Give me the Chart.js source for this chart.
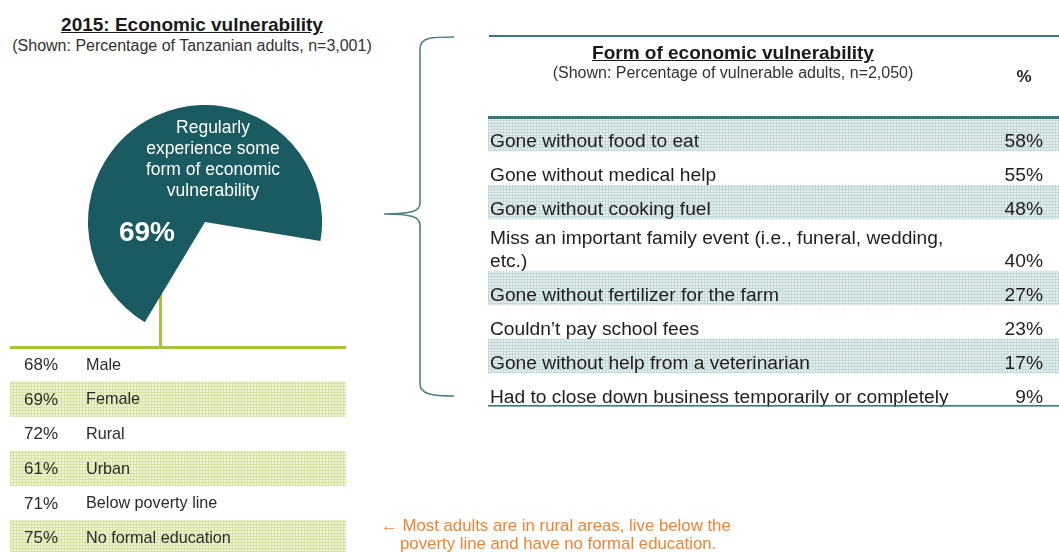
<!DOCTYPE html>
<html>
<head>
<meta charset="utf-8">
<script src="https://cdn.jsdelivr.net/npm/chart.js@4.4.1/dist/chart.umd.min.js"></script>
<style>
  html, body { margin: 0; padding: 0; background: #fff; }
  body { width: 1059px; height: 552px; position: relative; overflow: hidden;
         font-family: "Liberation Sans", Arial, sans-serif; color: #222; }
  .abs { position: absolute; }
  .title { font-weight: bold; font-size: 19px; text-decoration: underline; white-space: nowrap; color: #1a1a1a; }
  .sub { font-size: 16px; white-space: nowrap; color: #333; }
  .rule { background: #3d777c; }
  canvas { display: block; }
</style>
</head>
<body>

<div class="abs title" style="left:0;width:384px;text-align:center;top:14px;">2015: Economic vulnerability</div>
<div class="abs sub" style="left:0;width:384px;text-align:center;top:37px;">(Shown: Percentage of Tanzanian adults, n=3,001)</div>

<div class="abs" style="left:159px;top:285px;width:3px;height:62px;background:#a8c23c;"></div>
<div class="abs" style="left:88px;top:105px;"><canvas id="pie" width="234" height="234"></canvas></div>

<div class="abs" style="left:10px;top:346px;width:336px;height:2.5px;background:#a8c23c;z-index:2;"></div>
<div class="abs" style="left:10px;top:347px;"><canvas id="groups" width="336" height="208"></canvas></div>

<svg class="abs" style="left:0;top:0;" width="1059" height="552">
  <path d="M454,37 C432,37 420,37 420,49 L420,203 C420,211 412,214 384,214 C412,214 420,217 420,225 L420,384 C420,394 432,396 454,396"
        fill="none" stroke="#4f7f85" stroke-width="1.6"/>
</svg>

<div class="abs rule" style="left:489px;top:35px;width:570px;height:2px;"></div>
<div class="abs title" style="left:489px;width:488px;text-align:center;top:42px;">Form of economic vulnerability</div>
<div class="abs sub" style="left:489px;width:488px;text-align:center;top:64px;">(Shown: Percentage of vulnerable adults, n=2,050)</div>
<div class="abs" style="left:1010px;width:28px;text-align:center;top:67px;font-weight:bold;font-size:17px;color:#222;">%</div>
<div class="abs rule" style="left:488px;top:116px;width:571px;height:2.5px;z-index:2;"></div>
<div class="abs" style="left:488px;top:117px;"><canvas id="forms" width="571" height="290"></canvas></div>

<div class="abs" style="left:381px;top:517px;font-size:16.8px;color:#ef8435;line-height:18px;white-space:nowrap;">
  &larr; Most adults are in rural areas, live below the<br>
  <span style="padding-left:19px;">poverty line and have no formal education.</span>
</div>

<script>
// share of adults who regularly face some form of economic vulnerability
const vulnerableShare = 69;

// breakdown by group
const groupLabels = ['Male', 'Female', 'Rural', 'Urban', 'Below poverty line', 'No formal education'];
const groupValues = [68, 69, 72, 61, 71, 75];

// forms of vulnerability among vulnerable adults
const formLabels = [
  'Gone without food to eat',
  'Gone without medical help',
  'Gone without cooking fuel',
  ['Miss an important family event (i.e., funeral, wedding,', 'etc.)'],
  'Gone without fertilizer for the farm',
  'Couldn\u2019t pay school fees',
  'Gone without help from a veterinarian',
  'Had to close down business temporarily or completely'
];
const formValues = [58, 55, 48, 40, 27, 23, 17, 9];

const FONT = '"Liberation Sans", Arial, sans-serif';

// small grid texture used for the shaded table rows
function gridPattern(bg, line) {
  const c = document.createElement('canvas');
  c.width = 3; c.height = 3;
  const g = c.getContext('2d');
  g.fillStyle = bg; g.fillRect(0, 0, 3, 3);
  g.fillStyle = line; g.fillRect(0, 0, 3, 1); g.fillRect(0, 0, 1, 3);
  return g.createPattern(c, 'repeat');
}

Chart.defaults.animation = false;
Chart.defaults.font.family = FONT;

// --- pie ---
new Chart(document.getElementById('pie'), {
  type: 'pie',
  data: {
    labels: ['Vulnerable', 'Other'],
    datasets: [{
      data: [vulnerableShare, 100 - vulnerableShare],
      backgroundColor: ['#195b61', 'rgba(0,0,0,0)'],
      borderWidth: 0
    }]
  },
  options: {
    responsive: false,
    rotation: 211,
    plugins: { legend: { display: false }, tooltip: { enabled: false } }
  },
  plugins: [{
    id: 'pieText',
    afterDatasetsDraw(chart) {
      const arc = chart.getDatasetMeta(0).data[0];
      const ctx = chart.ctx;
      ctx.save();
      ctx.fillStyle = '#ffffff';
      ctx.textAlign = 'center';
      ctx.textBaseline = 'middle';
      ctx.font = '17.5px ' + FONT;
      ['Regularly', 'experience some', 'form of economic', 'vulnerability'].forEach((t, k) => {
        ctx.fillText(t, arc.x + 8, arc.y - 94 + k * 21);
      });
      ctx.font = 'bold 28px ' + FONT;
      ctx.fillText(chart.data.datasets[0].data[0] + '%', arc.x - 58, arc.y + 11);
      ctx.restore();
    }
  }]
});

// --- group table ---
const groupsCtx = document.getElementById('groups').getContext('2d');
const greenGrid = gridPattern('#eff4d6', '#d6e3a2');
new Chart(groupsCtx, {
  type: 'bar',
  data: {
    labels: groupLabels,
    datasets: [{
      data: groupLabels.map(() => 1),
      backgroundColor: (c) => (c.dataIndex % 2 === 1 ? greenGrid : 'rgba(0,0,0,0)'),
      barPercentage: 1,
      categoryPercentage: 1
    }]
  },
  options: {
    responsive: false,
    indexAxis: 'y',
    layout: { padding: 0 },
    scales: {
      x: { display: false, min: 0, max: 1 },
      y: { display: false }
    },
    plugins: { legend: { display: false }, tooltip: { enabled: false } }
  },
  plugins: [{
    id: 'groupText',
    afterDatasetsDraw(chart) {
      const { ctx, scales: { y } } = chart;
      ctx.save();
      ctx.fillStyle = '#2a2a2a';
      ctx.textBaseline = 'middle';
      groupLabels.forEach((g, i) => {
        const yy = y.getPixelForValue(i) + 1;
        ctx.font = '17px ' + FONT;
        ctx.fillText(groupValues[i] + '%', 14, yy);
        ctx.font = '16.2px ' + FONT;
        ctx.fillText(g, 76, yy);
      });
      ctx.restore();
    }
  }]
});

// --- forms table ---
// row heights grow with the number of text lines
const ROW = 34, EXTRA_LINE = 18;
const rowEdges = [0];
formLabels.forEach((l) => {
  const n = Array.isArray(l) ? l.length : 1;
  rowEdges.push(rowEdges[rowEdges.length - 1] + ROW + EXTRA_LINE * (n - 1));
});
const totalRows = rowEdges[rowEdges.length - 1];

const formsCtx = document.getElementById('forms').getContext('2d');
const tealGrid = gridPattern('#e6eff0', '#c4d8da');
new Chart(formsCtx, {
  type: 'bar',
  data: {
    datasets: [{
      data: formLabels.map((l, i) => ({ x: 1, y: (rowEdges[i] + rowEdges[i + 1]) / 2 })),
      backgroundColor: (c) => (c.dataIndex % 2 === 0 ? tealGrid : 'rgba(0,0,0,0)'),
      barThickness: ROW
    }]
  },
  options: {
    responsive: false,
    indexAxis: 'y',
    layout: { padding: 0 },
    scales: {
      x: { display: false, min: 0, max: 1 },
      y: { type: 'linear', display: false, reverse: true, min: 0, max: totalRows, offset: false }
    },
    plugins: { legend: { display: false }, tooltip: { enabled: false } }
  },
  plugins: [{
    id: 'formText',
    afterDatasetsDraw(chart) {
      const { ctx, scales: { y }, width, height } = chart;
      ctx.save();
      ctx.fillStyle = '#1e1e1e';
      ctx.textBaseline = 'middle';
      ctx.font = '19.2px ' + FONT;
      formLabels.forEach((label, i) => {
        const lines = Array.isArray(label) ? label : [label];
        const bottom = y.getPixelForValue(rowEdges[i + 1]);
        ctx.textAlign = 'left';
        lines.forEach((t, k) => {
          ctx.fillText(t, 2, bottom - 9 - (lines.length - 1 - k) * 23);
        });
        ctx.textAlign = 'right';
        ctx.fillText(formValues[i] + '%', 555, bottom - 9);
      });
      ctx.fillStyle = '#3d777c';
      ctx.fillRect(0, height - 2, width, 1.6);
      ctx.restore();
    }
  }]
});
</script>
</body>
</html>
